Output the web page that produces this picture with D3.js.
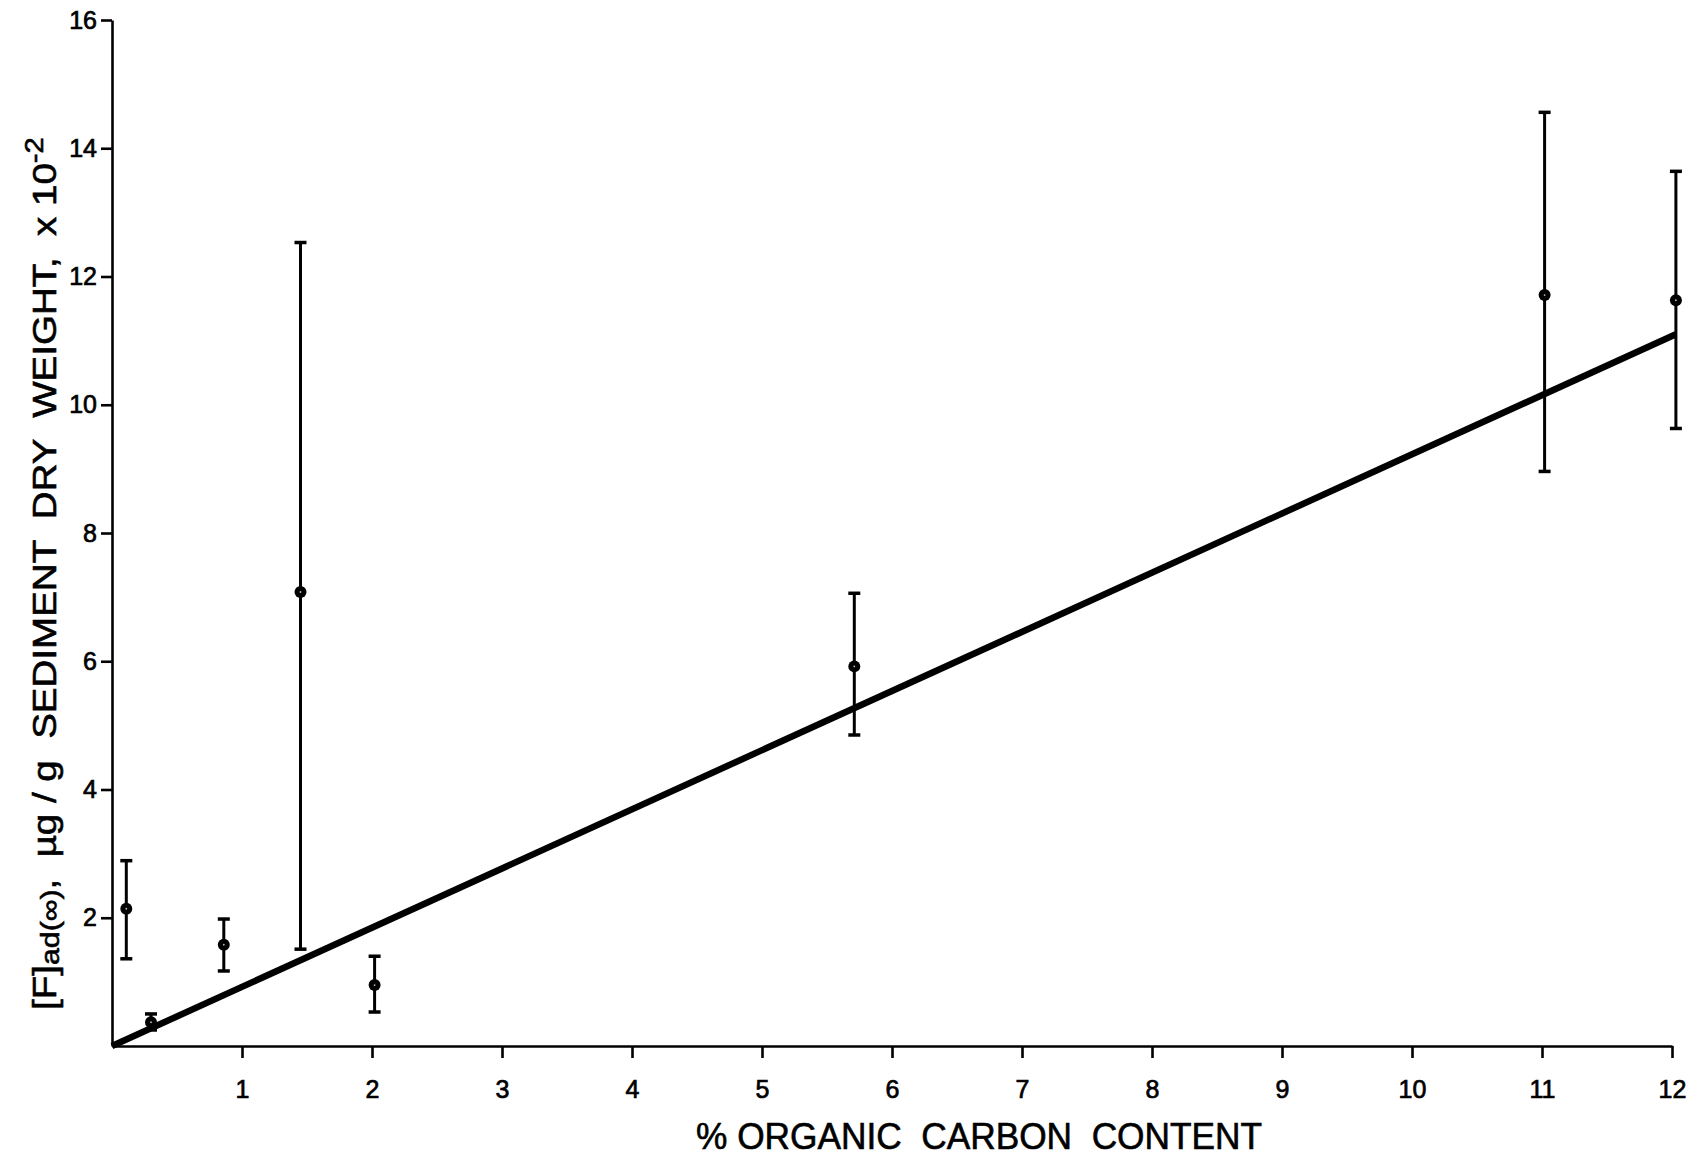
<!DOCTYPE html>
<html lang="en">
<head>
    <meta charset="UTF-8">
    <title>Fluoride vs organic carbon</title>
    <script src="https://cdn.jsdelivr.net/npm/d3@7/dist/d3.min.js"></script>
    <style>
        body { margin: 0; background: #fff; }
        svg { display: block; }
        .axis path, .axis line { stroke: #000; stroke-width: 2.6px; }
        .axis text { font-family: "Liberation Sans", Arial, sans-serif; font-size: 25px; fill: #000; stroke: #000; stroke-width: 0.7px; }
        .err { stroke: #000; stroke-width: 3px; }
        .cap { stroke: #000; stroke-width: 3.5px; }
        .fit { fill: none; stroke: #000; stroke-width: 6.5px; }
        .title { font-family: "Liberation Sans", Arial, sans-serif; fill: #000; stroke: #000; stroke-width: 0.6px; white-space: pre; }
    </style>
</head>
<body>
    <svg width=1691 height=1156></svg>
    <script>
        // values
        var orgCarbon = [0.11, 0.30, 0.86, 1.45, 2.02, 5.71, 11.02, 12.03],
            fMean = [2.14, 0.37, 1.58, 7.08, 0.95, 5.92, 11.71, 11.63],
            fLow = [1.36, 0.25, 1.17, 1.51, 0.53, 4.85, 8.96, 9.63],
            fHigh = [2.89, 0.50, 1.98, 12.53, 1.40, 7.06, 14.56, 13.64],
            fitX = [0, 12.03],
            fitY = [0, 11.1],
            xTicks = [1, 2, 3, 4, 5, 6, 7, 8, 9, 10, 11, 12],
            yTicks = [2, 4, 6, 8, 10, 12, 14, 16];

        var svg = d3.select('svg'),
            xScale = d3.scaleLinear().domain([0, 12]).range([112, 1672]),
            yScale = d3.scaleLinear().domain([0, 16]).range([1046, 20]);

        var points = orgCarbon.map(function(x, i) {
            return { x: x, y: fMean[i], lo: fLow[i], hi: fHigh[i] };
        });

        svg.append('g')
            .attr('class', 'axis')
            .attr('transform', 'translate(0,' + yScale(0) + ')')
            .call(d3.axisBottom(xScale).tickValues(xTicks).tickSize(12).tickSizeOuter(0).tickPadding(22));

        svg.append('g')
            .attr('class', 'axis')
            .attr('transform', 'translate(' + xScale(0) + ',0)')
            .call(d3.axisLeft(yScale).tickValues(yTicks).tickSize(11).tickSizeOuter(0).tickPadding(4));

        // regression line
        svg.append('path')
            .attr('class', 'fit')
            .datum(fitX.map(function(x, i) { return [x, fitY[i]]; }))
            .attr('d', d3.line()
                .x(function(d) { return xScale(d[0]); })
                .y(function(d) { return yScale(d[1]); }));

        var g = svg.selectAll('.pt')
            .data(points)
            .enter().append('g')
            .attr('class', 'pt');

        g.append('line')
            .attr('class', 'err')
            .attr('x1', function(d) { return xScale(d.x); })
            .attr('x2', function(d) { return xScale(d.x); })
            .attr('y1', function(d) { return yScale(d.lo); })
            .attr('y2', function(d) { return yScale(d.hi); });

        ['lo', 'hi'].forEach(function(k) {
            g.append('line')
                .attr('class', 'cap')
                .attr('x1', function(d) { return xScale(d.x) - 6; })
                .attr('x2', function(d) { return xScale(d.x) + 6; })
                .attr('y1', function(d) { return yScale(d[k]); })
                .attr('y2', function(d) { return yScale(d[k]); });
        });

        g.append('circle')
            .attr('cx', function(d) { return xScale(d.x); })
            .attr('cy', function(d) { return yScale(d.y); })
            .attr('r', 6)
            .attr('fill', '#000');

        g.append('circle')
            .attr('cx', function(d) { return xScale(d.x); })
            .attr('cy', function(d) { return yScale(d.y); })
            .attr('r', 0.9)
            .attr('fill', '#bbb');

        // x title
        svg.append('text')
            .attr('class', 'title')
            .attr('x', 979)
            .attr('y', 1149)
            .attr('text-anchor', 'middle')
            .attr('font-size', 36)
            .attr('textLength', 566)
            .attr('lengthAdjust', 'spacingAndGlyphs')
            .text('% ORGANIC  CARBON  CONTENT');

        // y title, fitted to its length in the figure
        var yt = svg.append('text')
            .attr('class', 'title')
            .attr('font-size', 33);
        yt.append('tspan').text('[F]');
        yt.append('tspan').attr('font-size', 26).attr('dy', 3).text('ad(\u221E)');
        yt.append('tspan').attr('dy', -3).text(',  \u00B5g / g  SEDIMENT  DRY  WEIGHT,  x 10');
        yt.append('tspan').attr('font-size', 25).attr('dy', -13).text('-2');

        var len = yt.node().getComputedTextLength(),
            target = 873,
            sx = target / len;
        yt.attr('transform', 'translate(56,1010) rotate(-90) scale(' + sx + ',1)');
    </script>
</body>
</html>
